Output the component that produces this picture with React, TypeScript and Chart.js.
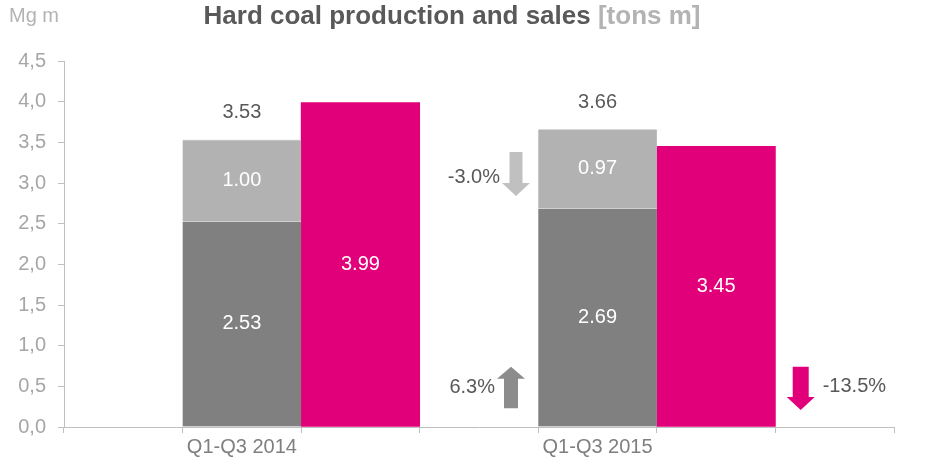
import { useEffect, useRef } from 'react';
import { Chart, registerables } from 'chart.js';

Chart.register(...registerables);

const categories = ['Q1-Q3 2014', 'Q1-Q3 2015'];
const ownProduction = [2.53, 2.69];
const otherProduction = [1.0, 0.97];
const sales = [3.99, 3.45];
const totals = [3.53, 3.66];
const changeOther = '-3.0%';
const changeOwn = '6.3%';
const changeSales = '-13.5%';
const yMin = 0;
const yMax = 4.5;
const yStep = 0.5;

const FONT = '"Liberation Sans", Arial, Helvetica, sans-serif';
const DARK = '#808080';
const LIGHT = '#b2b2b2';
const MAGENTA = '#e2007a';
const TEXT = '#595959';

// 7 slots: empty, production, sales, empty, production, sales, empty
const slotLabels: string[] = [''];
const slotOwn: (number | null)[] = [null];
const slotOther: (number | null)[] = [null];
const slotSales: (number | null)[] = [null];
const slotTotals: (number | null)[] = [null];
categories.forEach((c, i) => {
  slotLabels.push(c, '', '');
  slotOwn.push(ownProduction[i], null, null);
  slotOther.push(otherProduction[i], null, null);
  slotSales.push(null, sales[i], null);
  slotTotals.push(totals[i], null, null);
});

function drawArrow(
  ctx: CanvasRenderingContext2D,
  cx: number,
  yTop: number,
  yBottom: number,
  down: boolean,
  shaftW: number,
  headW: number,
  headH: number,
  color: string
) {
  ctx.save();
  ctx.fillStyle = color;
  ctx.beginPath();
  if (down) {
    ctx.moveTo(cx - shaftW / 2, yTop);
    ctx.lineTo(cx + shaftW / 2, yTop);
    ctx.lineTo(cx + shaftW / 2, yBottom - headH);
    ctx.lineTo(cx + headW / 2, yBottom - headH);
    ctx.lineTo(cx, yBottom);
    ctx.lineTo(cx - headW / 2, yBottom - headH);
    ctx.lineTo(cx - shaftW / 2, yBottom - headH);
  } else {
    ctx.moveTo(cx - shaftW / 2, yBottom);
    ctx.lineTo(cx + shaftW / 2, yBottom);
    ctx.lineTo(cx + shaftW / 2, yTop + headH);
    ctx.lineTo(cx + headW / 2, yTop + headH);
    ctx.lineTo(cx, yTop);
    ctx.lineTo(cx - headW / 2, yTop + headH);
    ctx.lineTo(cx - shaftW / 2, yTop + headH);
  }
  ctx.closePath();
  ctx.fill();
  ctx.restore();
}

const overlayPlugin = {
  id: 'overlay',
  afterDraw(chart: any) {
    const ctx: CanvasRenderingContext2D = chart.ctx;
    const xs = chart.scales.x;
    const ys = chart.scales.y;
    ctx.save();

    // Title
    const t1 = 'Hard coal production and sales ';
    const t2 = '[tons m]';
    ctx.font = `bold 26px ${FONT}`;
    ctx.textBaseline = 'alphabetic';
    ctx.textAlign = 'left';
    const w1 = ctx.measureText(t1).width;
    const w2 = ctx.measureText(t2).width;
    const start = 452 - (w1 + w2) / 2;
    ctx.fillStyle = TEXT;
    ctx.fillText(t1, start, 24);
    ctx.fillStyle = '#b3b3b3';
    ctx.fillText(t2, start + w1, 24);

    // Unit
    ctx.font = `20px ${FONT}`;
    ctx.fillStyle = '#b3b3b3';
    ctx.fillText('Mg m', 9, 22);

    // Value labels inside bars
    ctx.textAlign = 'center';
    ctx.textBaseline = 'middle';
    ctx.font = `20px ${FONT}`;
    ctx.fillStyle = '#ffffff';
    chart.data.datasets.forEach((ds: any, di: number) => {
      const meta = chart.getDatasetMeta(di);
      meta.data.forEach((el: any, i: number) => {
        const v = ds.data[i];
        if (v == null) return;
        const p = el.getProps(['x', 'y', 'base'], true);
        ctx.fillText(v.toFixed(2), p.x, (p.y + p.base) / 2);
      });
    });

    // Totals
    ctx.fillStyle = TEXT;
    slotTotals.forEach((v, i) => {
      if (v == null) return;
      ctx.fillText(v.toFixed(2), xs.getPixelForValue(i), ys.getPixelForValue(v) - 27);
    });

    // Change annotations
    const gap = xs.getPixelForValue(3);
    const last = xs.getPixelForValue(6);
    drawArrow(ctx, gap + 37, ys.getPixelForValue(3.38), ys.getPixelForValue(2.84), true, 13, 28, 13, '#c0c0c0');
    drawArrow(ctx, gap + 32, ys.getPixelForValue(0.74), ys.getPixelForValue(0.23), false, 14, 28, 12, '#8c8c8c');
    drawArrow(ctx, last - 34, ys.getPixelForValue(0.74), ys.getPixelForValue(0.21), true, 16, 28, 13, MAGENTA);

    ctx.fillStyle = TEXT;
    ctx.font = `20px ${FONT}`;
    ctx.textAlign = 'right';
    ctx.fillText(changeOther, gap + 21, ys.getPixelForValue(3.07));
    ctx.fillText(changeOwn, gap + 16, ys.getPixelForValue(0.49));
    ctx.textAlign = 'left';
    ctx.fillText(changeSales, last - 12, ys.getPixelForValue(0.5));

    ctx.restore();
  },
};

export default function App() {
  const ref = useRef<HTMLCanvasElement | null>(null);
  useEffect(() => {
    document.body.style.margin = '0';
    if (!ref.current) return;
    Chart.defaults.font.family = FONT;
    const chart = new Chart(ref.current, {
      type: 'bar',
      data: {
        labels: slotLabels,
        datasets: [
          {
            label: 'Own production',
            data: slotOwn,
            backgroundColor: DARK,
            borderColor: '#d0d0d0',
            borderWidth: { top: 1, left: 0, right: 0, bottom: 0 },
            borderSkipped: false,
            barPercentage: 1,
            categoryPercentage: 1,
          },
          {
            label: 'Other production',
            data: slotOther,
            backgroundColor: LIGHT,
            borderColor: '#d8d8d8',
            borderWidth: { top: 1, left: 0, right: 0, bottom: 0 },
            borderSkipped: false,
            barPercentage: 1,
            categoryPercentage: 1,
          },
          {
            label: 'Sales',
            data: slotSales,
            backgroundColor: MAGENTA,
            borderWidth: 0,
            barPercentage: 1,
            categoryPercentage: 1,
          },
        ],
      },
      options: {
        animation: false,
        responsive: false,
        maintainAspectRatio: false,
        layout: { padding: { top: 61, right: 36, left: 0, bottom: 0 } },
        plugins: {
          legend: { display: false },
          tooltip: { enabled: false },
          title: { display: false },
        },
        scales: {
          x: {
            stacked: true,
            offset: true,
            grid: { offset: true, drawOnChartArea: false, drawTicks: true, tickLength: 6, color: '#bfbfbf' },
            border: { display: true, color: '#bfbfbf' },
            ticks: { color: '#7f7f7f', font: { size: 20, family: FONT }, padding: 2, maxRotation: 0, autoSkip: false },
            afterFit: (s: any) => {
              s.height = 35;
            },
          },
          y: {
            stacked: true,
            min: yMin,
            max: yMax,
            ticks: {
              stepSize: yStep,
              color: '#a6a6a6',
              font: { size: 20, family: FONT },
              padding: 12,
              callback: (v: any) => Number(v).toFixed(1).replace('.', ','),
            },
            grid: { drawOnChartArea: false, drawTicks: true, tickLength: 6, color: '#bfbfbf' },
            border: { display: true, color: '#bfbfbf' },
            afterFit: (s: any) => {
              s.width = 64;
            },
          },
        },
      },
      plugins: [overlayPlugin],
    });
    return () => chart.destroy();
  }, []);
  return <canvas ref={ref} width={930} height={462} style={{ display: 'block' }} />;
}
